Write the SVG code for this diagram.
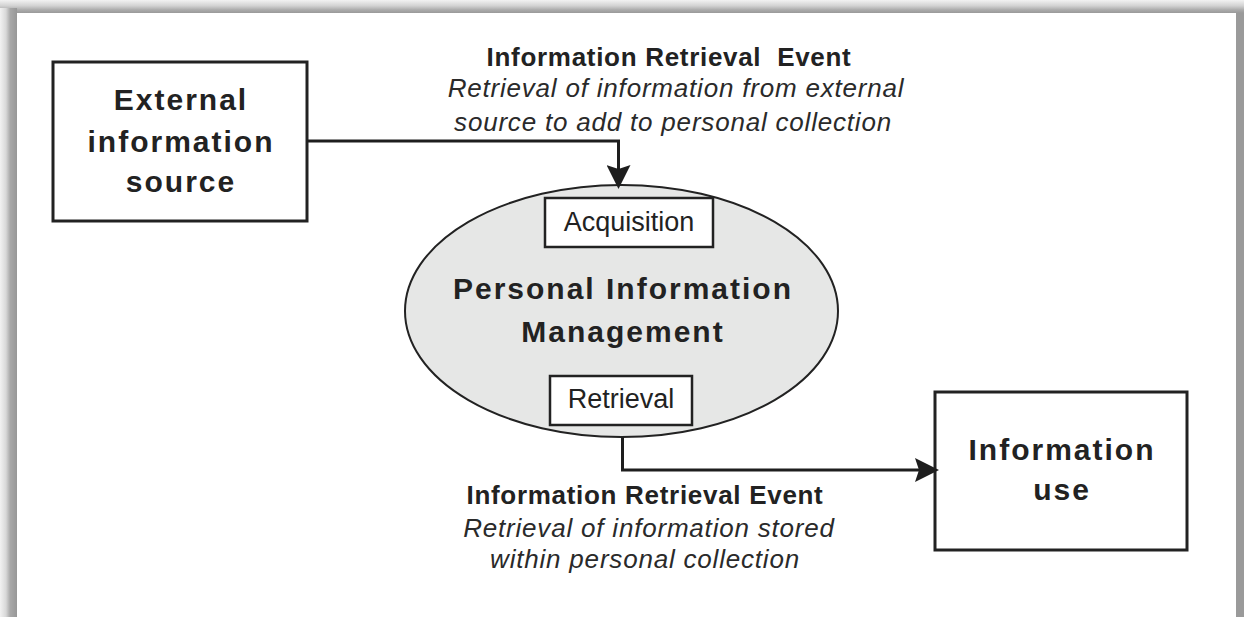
<svg xmlns="http://www.w3.org/2000/svg" width="1244" height="617" viewBox="0 0 1244 617">
  <defs>
    <linearGradient id="frameTop" x1="0" y1="0" x2="0" y2="1">
      <stop offset="0" stop-color="#f2f2f2"/>
      <stop offset="0.45" stop-color="#d2d2d2"/>
      <stop offset="0.75" stop-color="#acacac"/>
      <stop offset="1" stop-color="#9a9a9a"/>
    </linearGradient>
    <linearGradient id="frameLeft" x1="0" y1="0" x2="1" y2="0">
      <stop offset="0" stop-color="#f2f2f2"/>
      <stop offset="0.35" stop-color="#d8d8d8"/>
      <stop offset="0.6" stop-color="#a8a8a8"/>
      <stop offset="1" stop-color="#979797"/>
    </linearGradient>
    <marker id="arrow" viewBox="0 0 24 24" refX="20" refY="12" markerWidth="24" markerHeight="24" markerUnits="userSpaceOnUse" orient="auto">
      <path d="M0,0 L24,12 L0,24 L4,12 z" fill="#1e1e1e"/>
    </marker>
    <style>
      .box { fill: #ffffff; stroke: #222222; stroke-width: 3; }
      .tag { fill: #ffffff; stroke: #222222; stroke-width: 2.5; }
      .hub { fill: #e6e7e6; stroke: #222222; stroke-width: 2; }
      .wire { fill: none; stroke: #1e1e1e; stroke-width: 3; marker-end: url(#arrow); }
      .big { font-family: "Liberation Sans", Arial, sans-serif; font-weight: bold; font-size: 30px; letter-spacing: 2px; fill: #222222; text-anchor: middle; }
      .small { font-family: "Liberation Sans", Arial, sans-serif; font-size: 27px; fill: #222222; text-anchor: middle; }
      .head { font-family: "Liberation Sans", Arial, sans-serif; font-weight: bold; font-size: 26px; letter-spacing: 0.7px; fill: #222222; text-anchor: middle; white-space: pre; }
      .note { font-family: "Liberation Sans", Arial, sans-serif; font-style: italic; font-size: 26px; letter-spacing: 0.8px; fill: #2a2a2a; text-anchor: middle; }
    </style>
  </defs>

  <!-- page with shaded frame -->
  <rect x="0" y="0" width="1244" height="617" fill="#ffffff"/>
  <rect x="0" y="0" width="1244" height="13" fill="url(#frameTop)"/>
  <rect x="0" y="8" width="17" height="609" fill="url(#frameLeft)"/>
  <rect x="1236" y="13" width="8" height="604" fill="#9a9a9a"/>

  <!-- central process -->
  <g id="pim">
    <ellipse class="hub" cx="621.5" cy="311" rx="216.5" ry="126"/>
    <text class="big" x="623" y="299" letter-spacing="2.3">Personal Information</text>
    <text class="big" x="623" y="342" letter-spacing="2.3">Management</text>
  </g>

  <g id="acquisition">
    <rect class="tag" x="545" y="198" width="168" height="49"/>
    <text class="small" x="629" y="231">Acquisition</text>
  </g>

  <g id="retrieval">
    <rect class="tag" x="550" y="376" width="142" height="49"/>
    <text class="small" x="621" y="408">Retrieval</text>
  </g>

  <g id="external-source">
    <rect class="box" x="53" y="62" width="254" height="159"/>
    <text class="big" x="181" y="110">External</text>
    <text class="big" x="181" y="152">information</text>
    <text class="big" x="181" y="192">source</text>
  </g>

  <g id="information-use">
    <rect class="box" x="935" y="392" width="252" height="158"/>
    <text class="big" x="1062" y="460">Information</text>
    <text class="big" x="1062" y="500">use</text>
  </g>

  <!-- connectors -->
  <g id="connectors">
    <path class="wire" d="M307,141 H618.5 V185"/>
    <path class="wire" d="M622.5,437 V470 H935"/>
  </g>

  <!-- event labels -->
  <g id="acquire-event">
    <text class="head" x="669" y="66" letter-spacing="0.5">Information Retrieval  Event</text>
    <text class="note" x="676" y="97">Retrieval of information from external</text>
    <text class="note" x="673" y="131">source to add to personal collection</text>
  </g>

  <g id="retrieve-event">
    <text class="head" x="645" y="504">Information Retrieval Event</text>
    <text class="note" x="649" y="537">Retrieval of information stored</text>
    <text class="note" x="645" y="568">within personal collection</text>
  </g>
</svg>
